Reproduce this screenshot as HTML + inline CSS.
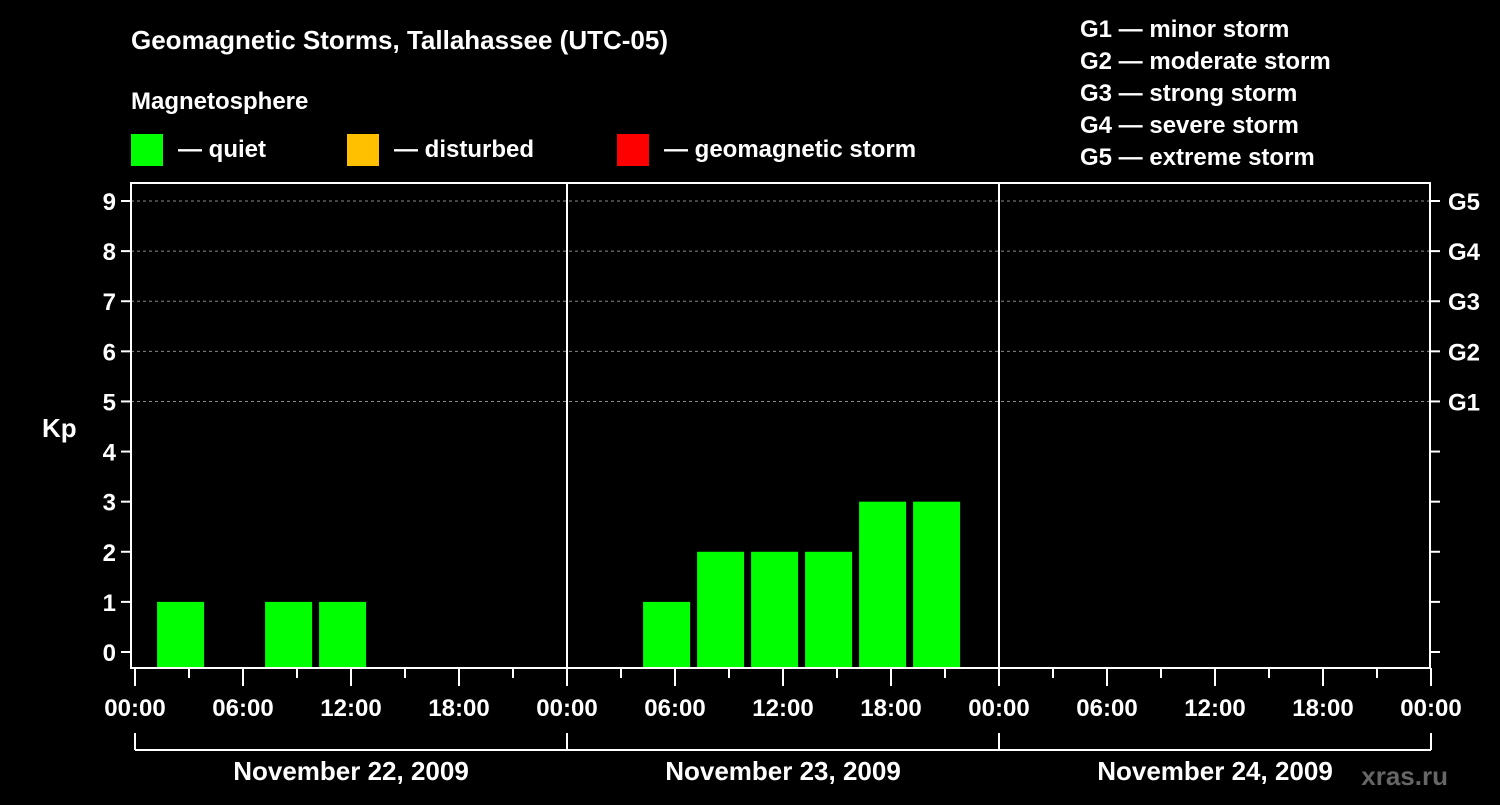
<!DOCTYPE html>
<html><head><meta charset="utf-8"><style>
body{margin:0;background:#000;width:1500px;height:800px;overflow:hidden}
svg text{font-family:"Liberation Sans",Arial,sans-serif;font-weight:bold;fill:#fff}
</style></head><body>
<svg id="c" width="1500" height="800" xmlns="http://www.w3.org/2000/svg">
<rect width="1500" height="800" fill="#000"/>
<text x="131" y="49" font-size="26">Geomagnetic Storms, Tallahassee (UTC-05)</text>
<text x="131" y="109" font-size="24">Magnetosphere</text>
<g><rect x="131" y="134" width="32" height="32" fill="#00ff00"/><text x="178" y="157" font-size="24">— quiet</text></g>
<g><rect x="347" y="134" width="32" height="32" fill="#ffc000"/><text x="394" y="157" font-size="24">— disturbed</text></g>
<g><rect x="617" y="134" width="32" height="32" fill="#ff0000"/><text x="664" y="157" font-size="24">— geomagnetic storm</text></g>
<g font-size="24">
<text x="1080" y="37">G1 — minor storm</text><text x="1080" y="69">G2 — moderate storm</text><text x="1080" y="101">G3 — strong storm</text><text x="1080" y="133">G4 — severe storm</text><text x="1080" y="165">G5 — extreme storm</text></g>
<text x="42" y="437" font-size="26">Kp</text>
<text x="1448" y="785" font-size="26" text-anchor="end" fill="#555" style="fill:#666">xras.ru</text>
<g id="grid"></g><g id="bars"></g><g id="axes"></g>
</svg>
<script>
const kpValues=[1,null,1,1,null,null,null,null,null,1,2,2,2,3,3,null,null,null,null,null,null,null,null,null];
const dayLabels=["November 22, 2009","November 23, 2009","November 24, 2009"];
const hourLabels=["00:00","06:00","12:00","18:00"];
const gLabels=["G1","G2","G3","G4","G5"];
const NS="http://www.w3.org/2000/svg";
const X0=135,DAYW=432,HOURW=DAYW/24,L=131,R=1430,T=183,B=668;
const x=h=>X0+h*HOURW;
const y=v=>652-v*50.11;
function mk(tag,attrs,parent){const e=document.createElementNS(NS,tag);for(const k in attrs)e.setAttribute(k,attrs[k]);document.getElementById(parent).appendChild(e);return e;}
// grid
for(let v=5;v<=9;v++){const l=mk('line',{x1:L,x2:R,y1:y(v),y2:y(v),stroke:'#888','stroke-dasharray':'3,3','stroke-width':1},'grid');

}
// bars
kpValues.forEach((v,i)=>{if(v==null)return;
const col=v>=5?'#ff0000':(v>=4?'#ffc000':'#00ff00');
const r=mk('rect',{x:x(i*3+1.2)+0.5,y:y(v),width:47,height:B-y(v),fill:col},'bars');

});
// axes frame
const fr=mk('rect',{x:L,y:T,width:R-L,height:B-T,fill:'none',stroke:'#fff','stroke-width':2},'axes');


for(let d=1;d<3;d++){const l=mk('line',{x1:x(d*24),x2:x(d*24),y1:T,y2:B,stroke:'#fff','stroke-width':2},'axes');

}
// y ticks & labels
for(let v=0;v<=9;v++){
mk('line',{x1:121,x2:L,y1:y(v),y2:y(v),stroke:'#fff','stroke-width':2},'axes');
mk('line',{x1:R,x2:R+10,y1:y(v),y2:y(v),stroke:'#fff','stroke-width':2},'axes');
const t=mk('text',{x:116,y:y(v)+9,'font-size':24,'text-anchor':'end'},'axes');t.textContent=v;

}
gLabels.forEach((g,i)=>{const t=mk('text',{x:1448,y:y(i+5)+9,'font-size':24},'axes');t.textContent=g;

});
// x ticks
for(let h=0;h<=72;h+=3){const maj=h%6==0;
mk('line',{x1:x(h),x2:x(h),y1:B,y2:maj?686:678,stroke:'#fff','stroke-width':2},'axes');
if(maj){const t=mk('text',{x:x(h),y:716,'font-size':24,'text-anchor':'middle'},'axes');t.textContent=hourLabels[(h/6)%4];

}}
// day brackets
mk('line',{x1:x(0),x2:x(72),y1:750,y2:750,stroke:'#fff','stroke-width':2},'axes');
for(let d=0;d<=3;d++)mk('line',{x1:x(d*24),x2:x(d*24),y1:733,y2:750,stroke:'#fff','stroke-width':2},'axes');
dayLabels.forEach((s,d)=>{const t=mk('text',{x:x(d*24+12),y:780,'font-size':26,'text-anchor':'middle'},'axes');t.textContent=s;

});
</script>
</body></html>
